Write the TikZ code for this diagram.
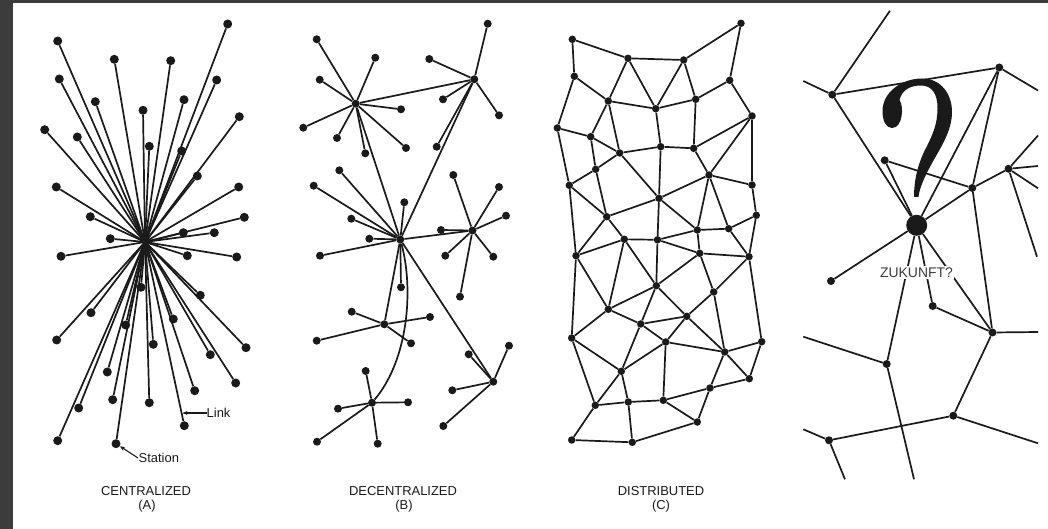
\documentclass[tikz,border=0pt]{standalone}
\usepackage{fontspec}
\newfontfamily\labfont{Liberation Sans}
\usetikzlibrary{arrows.meta}
\definecolor{ink}{HTML}{1A1A1A}
\definecolor{frame}{HTML}{3C3C3C}
\begin{document}
\begin{tikzpicture}[x=1bp,y=-1bp,
  link/.style={draw=ink, line width=1.7bp},
  dotA/.style={circle, fill=ink, inner sep=0pt, minimum size=9bp},
  dotB/.style={circle, fill=ink, inner sep=0pt, minimum size=8bp},
  dotC/.style={circle, fill=ink, inner sep=0pt, minimum size=7.5bp},
  dotD/.style={circle, fill=ink, inner sep=0pt, minimum size=8bp},
  bigdot/.style={circle, fill=ink, inner sep=0pt, minimum size=21bp},
  caption/.style={font=\labfont\fontsize{13}{15}\selectfont, text=ink, inner sep=0pt},
  note/.style={font=\labfont\fontsize{13}{15}\selectfont, text=ink, inner sep=0pt, anchor=west},
  pointer/.style={draw=ink, line width=1.1bp, -{Stealth[length=5bp,width=4bp]}}
  ]
\useasboundingbox (0,0) rectangle (1048,529);
\fill[white] (0,0) rectangle (1048,529);
\fill[frame] (0,0) rectangle (13,529);
\fill[frame] (0,0) rectangle (1048,3);

% ---------------- Panel A: centralized ----------------
\coordinate (ac) at (145,242);
\foreach \x/\y [count=\i] in {57.7/41,227.7/24,114.3/59.3,170.7/60.7,59.3/79,216.7/80,95.3/101.7,184/99.7,143/110.3,239.3/116.7,44.7/129.7,77.3/137,149.3/146.3,181.7/151,197.3/176,56.3/187,238.7/187,90.3/216.7,244.3/217.3,183.3/232.7,214.3/232.7,110.3/238.7,61/256.3,187.3/255.7,236.7/257,141/287.3,200.3/295.3,91/312.7,173.3/319,125.7/325,56.7/340,153.3/344.3,246/347.7,210.3/354.7,107.3/372,235.7/383,194.7/390.7,112.7/399.7,149.3/402.7,78.7/408,184.3/425.7,57.7/440.7,116/443.7}
{
  \node[dotA] (a\i) at (\x,\y) {};
  \draw[link] (ac) -- (a\i);
}
\node[note] (linklab) at (206.5,413) {Link};
\coordinate (linkpt) at (182.5,413);
\draw[pointer] (linklab.west) -- (linkpt);
\node[note] (stationlab) at (138.5,458) {Station};
\draw[pointer] ([xshift=-0.5bp]stationlab.west) -- (a43);
\node[caption] (capA) at (146,491) {CENTRALIZED};
\node[caption] (capAb) at (147,506.5) {(A)};

% ---------------- Panel B: decentralized ----------------
\node[dotB] (h1) at (355.7,103.7) {};
\node[dotB] (h2) at (474.3,79.3) {};
\node[dotB] (h3) at (400.3,239.5) {};
\node[dotB] (h4) at (472.5,230.5) {};
\node[dotB] (h5) at (384.3,324.3) {};
\node[dotB] (h6) at (372,402.7) {};
\node[dotB] (h7) at (493.3,381.7) {};
\draw[link] (h1) -- (h2);
\draw[link] (h1) -- (h3);
\draw[link] (h2) -- (h3);
\draw[link] (h3) -- (h4);
\draw[link] (h3) -- (h5);
\draw[link] (h3) -- (h7);
\draw[link] (h3) .. controls (414,290) and (408,360) .. (h6);
\foreach \x/\y [count=\i] in {316.7/39.3,375.3/57.7,319.7/79.7,401/109.3,303.3/127.7,337/138,406/148,365.3/153.3}
  {\node[dotB] (s1\i) at (\x,\y) {}; \draw[link] (h1) -- (s1\i);}
\foreach \x/\y [count=\i] in {487.7/23.7,429.3/59,443/99.3,499/115.3,436.7/146.7}
  {\node[dotB] (s2\i) at (\x,\y) {}; \draw[link] (h2) -- (s2\i);}
\foreach \x/\y [count=\i] in {339.3/170.3,313.7/185.7,404.3/202.3,351.3/218.7,369.3/238.7,320/255.7,401/287.3}
  {\node[dotB] (s3\i) at (\x,\y) {}; \draw[link] (h3) -- (s3\i);}
\foreach \x/\y [count=\i] in {453.3/175,499/187,506/215.7,441/230,445.3/255.7,493.3/256.7,460/296.7}
  {\node[dotB] (s4\i) at (\x,\y) {}; \draw[link] (h4) -- (s4\i);}
\foreach \x/\y [count=\i] in {351.7/311.7,430/317,316.7/340.7,411/343.3}
  {\node[dotB] (s5\i) at (\x,\y) {}; \draw[link] (h5) -- (s5\i);}
\foreach \x/\y [count=\i] in {365.7/371,338/408.7,408/402.3,317/441.7,377.7/443.7}
  {\node[dotB] (s6\i) at (\x,\y) {}; \draw[link] (h6) -- (s6\i);}
\foreach \x/\y [count=\i] in {509/345.7,468.7/354.3,452.3/390.3,443.3/426}
  {\node[dotB] (s7\i) at (\x,\y) {}; \draw[link] (h7) -- (s7\i);}
\node[caption] (capB) at (403,491) {DECENTRALIZED};
\node[caption] (capBb) at (404,506.5) {(B)};

% ---------------- Panel C: distributed ----------------
\foreach \x/\y [count=\i] in {572.3/39.3,628/58.3,683.7/60,741/23.3,574.3/76.3,729.7/80.3,608.3/101,655.7/108.7,695.7/99.3,752/116,557.3/128,590.7/136.7,619.7/153,660.7/146.7,693.7/148.3,595.7/169.3,709/175,569.3/185.3,752/185,659/198.3,606.7/216.7,756.3/215.3,697.3/230,728.7/228.7,624.3/239.3,657.5/239.8,576/255.7,699.7/253.3,749/256.7,656.3/285.7,713.7/292,608.3/309.3,686.7/316.3,640.7/324,571.7/338,665.7/342,761.7/341.7,724.7/352,621.3/371.3,749.3/378.7,710/388,595.3/405.3,628.3/402,663.3/400.3,697.3/422,571.7/440,632.3/442.3}
  {\node[dotC] (c\i) at (\x,\y) {};}
\foreach \u/\v in {1/2,2/3,3/4,1/5,4/6,5/7,2/7,2/8,3/8,3/9,7/8,8/9,6/9,6/10,5/11,11/12,7/12,12/13,7/13,8/14,9/15,13/14,14/15,10/15,12/16,13/16,11/18,16/18,10/17,15/17,10/19,17/19,13/20,14/20,17/20,18/21,16/21,20/21,19/22,21/25,20/26,20/23,17/23,17/24,22/24,23/24,25/26,26/23,22/29,24/29,21/27,18/27,25/27,25/32,25/30,26/30,26/28,23/28,28/29,28/30,27/32,27/35,30/32,30/34,30/33,28/31,29/31,29/37,31/33,31/38,32/34,32/35,34/33,34/36,33/36,33/38,34/39,35/39,35/42,36/39,36/38,36/44,37/38,37/40,38/40,38/41,40/41,41/44,41/45,39/42,39/43,42/43,43/44,44/45,42/46,43/47,46/47,47/45}
  {\draw[link] (c\u) -- (c\v);}
\node[caption] (capC) at (661,491) {DISTRIBUTED};
\node[caption] (capCb) at (661,506.5) {(C)};

% ---------------- Panel D: future ----------------
\fill[ink] (882.5,111) .. controls (882.5,92) and (902,78.5) .. (922,78.5)
  .. controls (941,78.5) and (952,94) .. (952,112)
  .. controls (952,132) and (939,150) .. (931,165)
  .. controls (924,178) and (919.5,188) .. (918.5,197)
  -- (914,197)
  .. controls (914,180) and (918,163) .. (926,148)
  .. controls (933,134) and (937.5,124) .. (937.5,108)
  .. controls (937.5,94) and (932,85.5) .. (921,85.5)
  .. controls (910,85.5) and (902,90) .. (899.5,100)
  .. controls (904,106) and (903,128) .. (892,128)
  .. controls (886,128) and (882.5,121) .. (882.5,111) -- cycle;

\node[dotD] (d1) at (832.3,94.7) {};
\node[dotD] (d2) at (999.3,67.5) {};
\node[dotD] (d3) at (884.7,160.3) {};
\node[dotD] (d4) at (972.3,188) {};
\node[dotD] (d5) at (1008.5,168.8) {};
\node[bigdot] (d6) at (916.7,225.3) {};
\node[dotD] (d7) at (831,281) {};
\node[dotD] (d8) at (932.7,306) {};
\node[dotD] (d9) at (992.5,332.5) {};
\node[dotD] (d10) at (886.7,364) {};
\node[dotD] (d11) at (953.3,415.7) {};
\node[dotD] (d12) at (829,440.3) {};
\coordinate (e1) at (890,10.7);
\coordinate (e2) at (803.3,81);
\coordinate (e3) at (1038,90.5);
\coordinate (e4) at (1038,135.5);
\coordinate (e5) at (1038,166);
\coordinate (e6) at (1038,188.3);
\coordinate (e7) at (1037,256.7);
\coordinate (e8) at (1038,332);
\coordinate (e9) at (803.3,336.7);
\coordinate (e10) at (914,479.3);
\coordinate (e11) at (1038,443.3);
\coordinate (e12) at (803.3,429.3);
\coordinate (e13) at (845,479.3);
\foreach \u/\v in {d1/e1,d1/e2,d1/d2,d2/e3,d1/d6,d3/d6,d3/d4,d2/d6,d2/d4,d4/d9,d4/d6,d4/d5,d5/e4,d5/e5,d5/e6,d5/e7,d6/d7,d6/d10,d6/d8,d6/d9,d8/d9,d9/e8,d9/d11,d10/e9,d10/e10,d11/d12,d11/e11,d12/e12,d12/e13}
  {\draw[link] (\u) -- (\v);}
\node[fill=white, inner sep=1.5bp, font=\labfont\fontsize{14}{16}\selectfont, text=ink!85] (zuk) at (916.5,272.5) {ZUKUNFT?};
\end{tikzpicture}
\end{document}
